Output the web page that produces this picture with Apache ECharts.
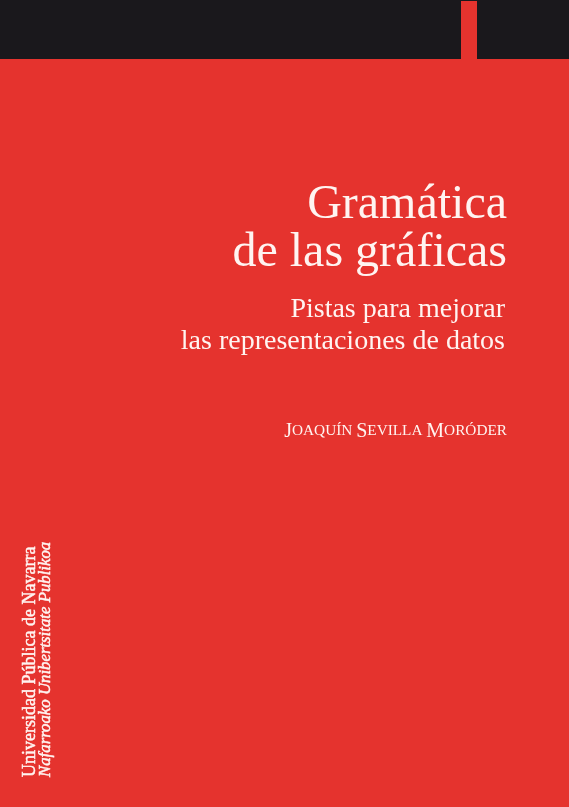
<!DOCTYPE html>
<html>
<head>
<meta charset="utf-8">
<script src="https://cdn.jsdelivr.net/npm/echarts@6/dist/echarts.min.js"></script>
<style>
html,body{margin:0;padding:0;background:#e5332e;}
#c{width:569px;height:807px;}
</style>
</head>
<body>
<div id="c"></div>
<script>
// Text content of the cover
var titleLines = ['Gramática', 'de las gráficas'];
var subtitleLines = ['Pistas para mejorar', 'las representaciones de datos'];
var authorWords = ['Joaquín', 'Sevilla', 'Moróder'];
var publisherLines = ['Universidad Pública de Navarra', 'Nafarroako Unibertsitate Publikoa'];

var RED = '#e5332e', DARK = '#1a181c', INK = '#fff4f1';
var SERIF = '"Liberation Serif", "Times New Roman", serif';

var chart = echarts.init(document.getElementById('c'), null, {renderer: 'canvas', width: 569, height: 807});

// small caps author text via rich text
var rich = {
  big: {fontFamily: SERIF, fontSize: 20, color: INK},
  sm: {fontFamily: SERIF, fontSize: 15.3, color: INK}
};
var authorText = authorWords.map(function (w) {
  var up = w.toUpperCase();
  return '{big|' + up.charAt(0) + '}{sm|' + up.slice(1) + '}';
}).join('{sm| }');

function line(text, x, baseline, fs, opts) {
  opts = opts || {};
  return {
    type: 'text',
    x: x, y: baseline - fs * 0.33,
    style: {
      text: text,
      fill: INK,
      font: (opts.italic ? 'italic ' : '') + (opts.weight || 'normal') + ' ' + fs + 'px ' + SERIF,
      textAlign: opts.align || 'right',
      textVerticalAlign: 'middle'
    }
  };
}

var graphics = [
  {type: 'rect', shape: {x: 0, y: 0, width: 569, height: 807}, style: {fill: RED}},
  {type: 'rect', shape: {x: 0, y: 0, width: 569, height: 59}, style: {fill: DARK}},
  {type: 'rect', shape: {x: 461, y: 1, width: 16, height: 58}, style: {fill: RED}},
  line(titleLines[0], 507, 221, 48),
  line(titleLines[1], 507, 269, 48),
  line(subtitleLines[0], 505, 319, 28),
  line(subtitleLines[1], 505, 351, 28),
  {
    type: 'text', x: 507, y: 438 - 20 * 0.33,
    style: {text: authorText, rich: rich, textAlign: 'right', textVerticalAlign: 'middle', fill: INK}
  },
  {
    type: 'text', x: 36 - 18 * 0.33, y: 777, rotation: Math.PI / 2,
    style: {text: publisherLines[0], fill: INK, stroke: INK, lineWidth: 0.5, font: 'normal 18px ' + SERIF, textAlign: 'left', textVerticalAlign: 'middle'}
  },
  {
    type: 'text', x: 51 - 17 * 0.33, y: 777, rotation: Math.PI / 2,
    style: {text: publisherLines[1], fill: INK, stroke: INK, lineWidth: 0.5, font: 'italic normal 16.8px ' + SERIF, textAlign: 'left', textVerticalAlign: 'middle'}
  }
];

chart.setOption({
  backgroundColor: RED,
  animation: false,
  graphic: {elements: graphics}
});
</script>
</body>
</html>
